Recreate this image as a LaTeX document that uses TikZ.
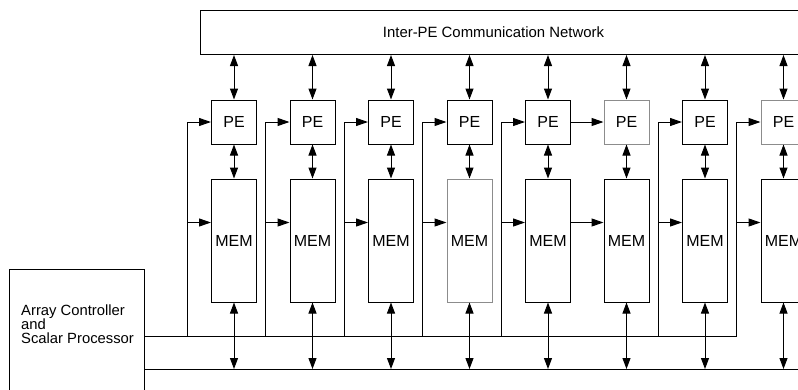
\documentclass[tikz,border=0pt]{standalone}
\usepackage{fontspec}
\setmainfont{Liberation Sans}
\usetikzlibrary{arrows.meta,positioning}

\begin{document}
\begin{tikzpicture}[x=1pt, y=-1pt,
  unit/.style={draw=black, line width=1pt, minimum width=45pt, inner sep=0pt, font=\fontsize{16}{16}\selectfont},
  pebox/.style={unit, minimum height=44pt},
  membox/.style={unit, minimum height=123pt},
  faint/.style={draw=black!45},
  frame/.style={draw=black, line width=1pt, inner sep=0pt},
  wire/.style={line width=1pt},
  link/.style={wire, -{Triangle[length=12pt, width=8pt]}},
  twoway/.style={wire, {Triangle[length=11pt, width=8pt]}-{Triangle[length=11pt, width=8pt]}}
]
\path[use as bounding box, clip] (0,0) rectangle (798,389);

% network and controller
\node[frame, minimum width=640pt, minimum height=44pt, anchor=north west] (net) at (200,10) {};
\node[font=\fontsize{14.9}{15}\selectfont] (netlabel) at (493.5,32) {Inter-PE Communication Network};
\node[frame, minimum width=135pt, minimum height=140pt, anchor=north west] (ctrl) at (9,269) {};
\node[align=left, anchor=west, inner sep=0pt, font=\fontsize{14.8}{14}\selectfont] (ctrllabel) at (21,324) {Array Controller\\and\\Scalar Processor};

% processing elements
\node[pebox] (pe1) at (234,122) {PE};
\node[pebox, right=32.5pt of pe1] (pe2) {PE};
\node[pebox, right=32.5pt of pe2] (pe3) {PE};
\node[pebox, right=32.5pt of pe3] (pe4) {PE};
\node[pebox, right=32.5pt of pe4] (pe5) {PE};
\node[pebox, faint, right=32.5pt of pe5] (pe6) {PE};
\node[pebox, right=32.5pt of pe6] (pe7) {PE};
\node[pebox, faint, right=32.5pt of pe7] (pe8) {PE};

% memories
\node[membox, below=34pt of pe1] (mem1) {MEM};
\node[membox, below=34pt of pe2] (mem2) {MEM};
\node[membox, below=34pt of pe3] (mem3) {MEM};
\node[membox, faint, below=34pt of pe4] (mem4) {MEM};
\node[membox, below=34pt of pe5] (mem5) {MEM};
\node[membox, below=34pt of pe6] (mem6) {MEM};
\node[membox, below=34pt of pe7] (mem7) {MEM};
\node[membox, below=34pt of pe8] (mem8) {MEM};

% buses
\coordinate (upbus) at (0,336);
\coordinate (lowbus) at (0,369);
\coordinate (lowend) at (805,369);

\foreach \i in {1,...,8} {
  \coordinate (memin\i) at ([yshift=-44pt]mem\i.north);
  \draw[twoway] (pe\i.north |- net.south) -- (pe\i.north);
  \draw[twoway] (pe\i) -- (mem\i);
  \draw[twoway] (mem\i) -- (mem\i |- lowbus);
}
\foreach \i in {1,2,3,4,5,7,8} {
  \coordinate (tap\i) at ([xshift=-24pt]pe\i.west);
  \draw[link] (tap\i |- upbus) |- (pe\i.west);
  \draw[link] (tap\i |- memin\i) -- (mem\i.west |- memin\i);
}
\draw[link] (pe5) -- (pe6);
\draw[link] (mem5.east |- memin5) -- (mem6.west |- memin6);

\draw[wire] (ctrl.east |- upbus) -- (tap8 |- upbus);
\draw[wire] (ctrl.east |- lowbus) -- (lowend);
\end{tikzpicture}
\end{document}
